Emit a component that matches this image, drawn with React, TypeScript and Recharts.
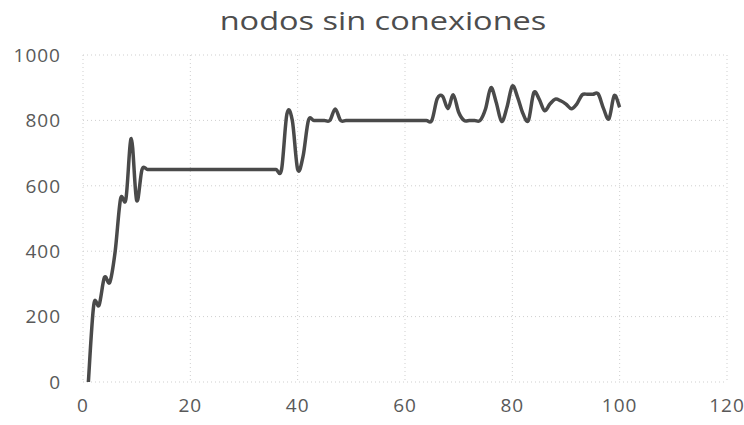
import { CartesianGrid, Line, LineChart, XAxis, YAxis } from "recharts";

// nodes without connections, one value per step (steps 1..100)
const nodosSinConexiones = [
  0, 235, 235, 320, 305, 400, 560, 560, 745, 555,
  650, 650, 650, 650, 650, 650, 650, 650, 650, 650,
  650, 650, 650, 650, 650, 650, 650, 650, 650, 650,
  650, 650, 650, 650, 650, 650, 650, 820, 800, 650,
  690, 800, 800, 800, 800, 800, 835, 800, 800, 800,
  800, 800, 800, 800, 800, 800, 800, 800, 800, 800,
  800, 800, 800, 800, 800, 866, 874, 836, 878, 825,
  800, 800, 800, 800, 835, 900, 855, 797, 840, 905,
  870, 820, 800, 885, 865, 830, 850, 865, 860, 850,
  836, 850, 878, 880, 880, 881, 836, 805, 876, 840,
];

const xTicks = [0, 20, 40, 60, 80, 100, 120];
const yTicks = [0, 200, 400, 600, 800, 1000];

const chartData = nodosSinConexiones.map((nodos, i) => ({ paso: i + 1, nodos }));

// Excel-style smoothed line: Catmull-Rom segments written as cubic Béziers
const smoothCurve = (context: any) => {
  let pts: [number, number][] = [];
  return {
    areaStart() {},
    areaEnd() {},
    lineStart() {
      pts = [];
    },
    point(x: number, y: number) {
      pts.push([+x, +y]);
    },
    lineEnd() {
      if (!pts.length) return;
      context.moveTo(pts[0][0], pts[0][1]);
      for (let i = 0; i < pts.length - 1; i++) {
        const p0 = pts[i - 1] || pts[i];
        const p1 = pts[i];
        const p2 = pts[i + 1];
        const p3 = pts[i + 2] || p2;
        context.bezierCurveTo(
          p1[0] + (p2[0] - p0[0]) / 6,
          p1[1] + (p2[1] - p0[1]) / 6,
          p2[0] - (p3[0] - p1[0]) / 6,
          p2[1] - (p3[1] - p1[1]) / 6,
          p2[0],
          p2[1]
        );
      }
    },
  };
};

const tickStyle = {
  fill: "#595959",
  fontSize: 19,
  fontFamily: "'Open Sans', sans-serif",
  letterSpacing: 1,
};

export default function App() {
  return (
    <div
      style={{
        position: "absolute",
        left: 0,
        top: 0,
        width: 744,
        height: 425,
        background: "#fff",
      }}
    >
      <div
        style={{
          position: "absolute",
          left: 0,
          top: 3,
          width: 766,
          textAlign: "center",
          fontFamily: "'Open Sans', sans-serif",
          fontSize: 25,
          color: "#4d4d4d",
          transform: "scaleX(1.3)",
          transformOrigin: "383px 0",
          whiteSpace: "nowrap",
        }}
      >
        nodos sin conexiones
      </div>
      <LineChart
        width={744}
        height={425}
        data={chartData}
        margin={{ top: 55, right: 17, bottom: 0, left: 0 }}
      >
        <CartesianGrid stroke="#cfcfcf" strokeDasharray="1 3" />
        <XAxis
          dataKey="paso"
          type="number"
          domain={[0, 120]}
          ticks={xTicks}
          axisLine={false}
          tickLine={false}
          tickMargin={11}
          height={43}
          tick={tickStyle}
        />
        <YAxis
          type="number"
          domain={[0, 1000]}
          ticks={yTicks}
          axisLine={false}
          tickLine={false}
          tickMargin={16}
          width={83}
          tick={tickStyle}
        />
        <Line
          dataKey="nodos"
          type={smoothCurve as any}
          stroke="#4a4a4a"
          strokeWidth={3.5}
          dot={false}
          isAnimationActive={false}
        />
      </LineChart>
    </div>
  );
}
